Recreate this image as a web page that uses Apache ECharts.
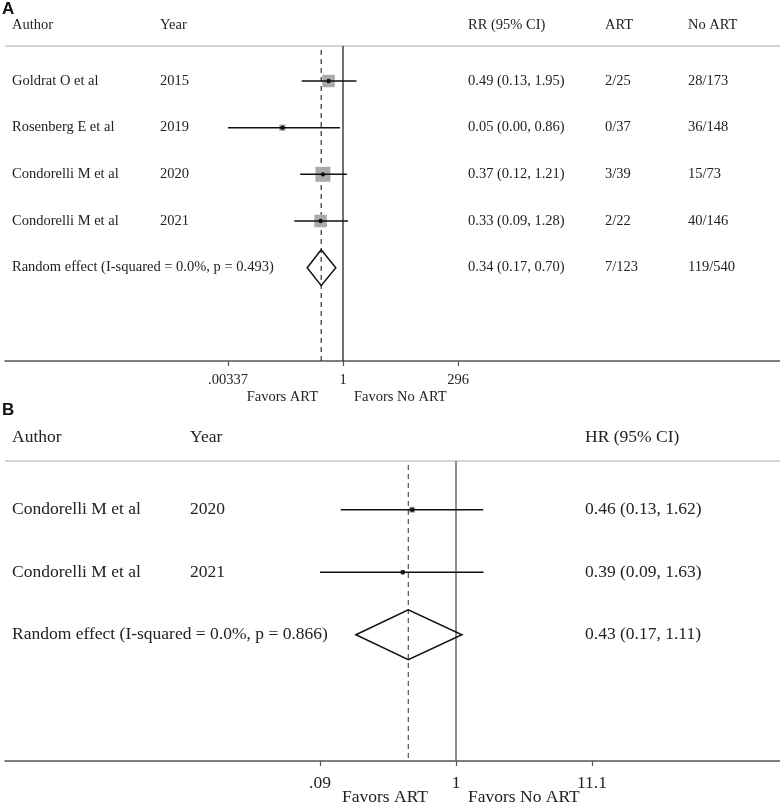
<!DOCTYPE html>
<html><head><meta charset="utf-8">
<script src="https://cdn.jsdelivr.net/npm/echarts@6/dist/echarts.min.js"></script>
<style>html,body{margin:0;padding:0;background:#fff}#c{width:780px;height:803px}</style>
</head><body><div id="c"></div>
<script>
// ---------- Panel A data ----------
const authorsA = ["Goldrat O et al", "Rosenberg E et al", "Condorelli M et al", "Condorelli M et al"];
const yearsA = ["2015", "2019", "2020", "2021"];
const rrA = [0.49, 0.05, 0.37, 0.33];
const loA = [0.13, 0.00, 0.12, 0.09];
const hiA = [1.95, 0.86, 1.21, 1.28];
const artA = ["2/25", "0/37", "3/39", "2/22"];
const noArtA = ["28/173", "36/148", "15/73", "40/146"];
const weightsA = [27, 7, 39, 27];
const pooledLabelA = "Random effect (I-squared = 0.0%, p = 0.493)";
const pooledA = [0.34, 0.17, 0.70];
const pooledArtA = "7/123";
const pooledNoArtA = "119/540";
const ticksA = [0.00337, 1, 296];
const tickLabelsA = [".00337", "1", "296"];

// ---------- Panel B data ----------
const authorsB = ["Condorelli M et al", "Condorelli M et al"];
const yearsB = ["2020", "2021"];
const hrB = [0.46, 0.39];
const loB = [0.13, 0.09];
const hiB = [1.62, 1.63];
const weightsB = [64, 36];
const pooledLabelB = "Random effect (I-squared = 0.0%, p = 0.866)";
const pooledB = [0.43, 0.17, 1.11];
const ticksB = [0.09, 1, 11.1];
const tickLabelsB = [".09", "1", "11.1"];

const SERIF = '"Liberation Serif","Times New Roman",serif';
const ln = Math.log;
const fmt = v => v.toFixed(2);
const ci = (e, l, h) => fmt(e) + " (" + fmt(l) + ", " + fmt(h) + ")";

// layout (pixels)
const A = {left: 5, top: 46, width: 775, height: 315, one: 343, tickR: 458};
const B = {left: 5, top: 461, width: 775, height: 300, one: 456, tickR: 592};
const kA = (A.tickR - A.one) / ln(ticksA[2]);
const kB = (B.tickR - B.one) / ln(ticksB[2]);
const xMinA = (A.left - A.one) / kA, xMaxA = (A.left + A.width - A.one) / kA;
const xMinB = (B.left - B.one) / kB, xMaxB = (B.left + B.width - B.one) / kB;

const chart = echarts.init(document.getElementById('c'), null, {renderer: 'canvas'});

function xAxisFor(gridIndex, min, max, ticks, labels, fontSize, margin) {
  const vals = ticks.map(t => ln(t));
  return {
    type: 'value', gridIndex, min, max, position: 'bottom',
    splitLine: {show: false},
    axisLine: {show: true, onZero: false, lineStyle: {color: '#555', width: 1.5}},
    axisTick: {show: true, customValues: vals, length: 5, lineStyle: {color: '#555', width: 1.2}},
    axisLabel: {
      show: true, customValues: vals, margin,
      fontFamily: SERIF, fontSize, color: '#222',
      formatter: v => { const i = vals.findIndex(t => Math.abs(t - v) < 1e-6); return i >= 0 ? labels[i] : ''; }
    }
  };
}

function studyData(est, lo, hi, w, minTick) {
  return est.map((e, i) => [ln(e), i, ln(Math.max(lo[i], minTick)), ln(hi[i]), w[i]]);
}

function studyRender(boxK) {
  return function (params, api) {
    const p = api.coord([api.value(0), api.value(1)]);
    const pl = api.coord([api.value(2), api.value(1)]);
    const ph = api.coord([api.value(3), api.value(1)]);
    const s = boxK * Math.sqrt(api.value(4));
    return {
      type: 'group', children: [
        {type: 'rect', shape: {x: p[0] - s / 2, y: p[1] - s / 2, width: s, height: s}, style: {fill: '#aaaaaa'}},
        {type: 'line', shape: {x1: pl[0], y1: pl[1], x2: ph[0], y2: ph[1]}, style: {stroke: '#111', lineWidth: 1.5}},
        {type: 'circle', shape: {cx: p[0], cy: p[1], r: 2.2}, style: {fill: '#111'}}
      ]
    };
  };
}

function diamondRender(h) {
  return function (params, api) {
    const r = api.value(3);
    const pe = api.coord([api.value(0), r]);
    const pl = api.coord([api.value(1), r]);
    const ph = api.coord([api.value(2), r]);
    return {
      type: 'polygon',
      shape: {points: [[pl[0], pl[1]], [pe[0], pe[1] - h], [ph[0], ph[1]], [pe[0], pe[1] + h]]},
      style: {fill: 'none', stroke: '#111', lineWidth: 1.5}
    };
  };
}

function vlineRender(color, dash, width, topOffset) {
  return function (params, api) {
    const x = api.value(0);
    const cs = params.coordSys;
    const p = api.coord([x, 0]);
    return {
      type: 'line',
      shape: {x1: p[0], y1: cs.y + topOffset, x2: p[0], y2: cs.y + cs.height},
      style: {stroke: color, lineWidth: width, lineDash: dash}
    };
  };
}

function textRender(columns, fontSize) {
  return function (params, api) {
    const row = api.value(0);
    const y = api.coord([0, row])[1];
    const item = params.dataIndex;
    return {
      type: 'group', children: columns.map(c => ({
        type: 'text', x: c.x, y: y,
        style: {text: c.values[item], fontFamily: SERIF, fontSize, fill: '#222', textVerticalAlign: 'middle', textAlign: 'left'}
      }))
    };
  };
}

// Text rows
const nA = authorsA.length;
const rowsA = authorsA.map((_, i) => [i]).concat([[nA]]);
const colsA = [
  {x: 12, values: authorsA.concat([pooledLabelA])},
  {x: 160, values: yearsA.concat([""])},
  {x: 468, values: rrA.map((e, i) => ci(e, loA[i], hiA[i])).concat([ci(pooledA[0], pooledA[1], pooledA[2])])},
  {x: 605, values: artA.concat([pooledArtA])},
  {x: 688, values: noArtA.concat([pooledNoArtA])}
];
const nB = authorsB.length;
const rowsB = authorsB.map((_, i) => [i]).concat([[nB]]);
const colsB = [
  {x: 12, values: authorsB.concat([pooledLabelB])},
  {x: 190, values: yearsB.concat([""])},
  {x: 585, values: hrB.map((e, i) => ci(e, loB[i], hiB[i])).concat([ci(pooledB[0], pooledB[1], pooledB[2])])}
];

const fsA = 14.5, fsB = 17.5;

const option = {
  animation: false,
  backgroundColor: '#fff',
  grid: [
    {left: A.left, top: A.top, width: A.width, height: A.height},
    {left: B.left, top: B.top, width: B.width, height: B.height}
  ],
  xAxis: [
    xAxisFor(0, xMinA, xMaxA, ticksA, tickLabelsA, fsA, 12),
    xAxisFor(1, xMinB, xMaxB, ticksB, tickLabelsB, fsB, 13)
  ],
  yAxis: [
    {type: 'value', gridIndex: 0, inverse: true, min: -0.75, max: 6.0, show: false},
    {type: 'value', gridIndex: 1, inverse: true, min: -0.78, max: 4.02, show: false}
  ],
  series: [
    {type: 'custom', xAxisIndex: 0, yAxisIndex: 0, clip: false, renderItem: vlineRender('#333', [5, 4], 1.2, 4), data: [[ln(pooledA[0])]], z: 1},
    {type: 'custom', xAxisIndex: 0, yAxisIndex: 0, clip: false, renderItem: vlineRender('#222', null, 1.3, 0), data: [[0]], z: 1},
    {type: 'custom', xAxisIndex: 0, yAxisIndex: 0, clip: false, renderItem: studyRender(2.4), data: studyData(rrA, loA, hiA, weightsA, ticksA[0]), z: 3},
    {type: 'custom', xAxisIndex: 0, yAxisIndex: 0, clip: false, renderItem: diamondRender(18), data: [[ln(pooledA[0]), ln(pooledA[1]), ln(pooledA[2]), nA]], z: 3},
    {type: 'custom', xAxisIndex: 0, yAxisIndex: 0, clip: false, renderItem: textRender(colsA, fsA), data: rowsA, z: 4},

    {type: 'custom', xAxisIndex: 1, yAxisIndex: 1, clip: false, renderItem: vlineRender('#555', [5, 4], 1.2, 4), data: [[ln(pooledB[0])]], z: 1},
    {type: 'custom', xAxisIndex: 1, yAxisIndex: 1, clip: false, renderItem: vlineRender('#666', null, 1.5, 0), data: [[0]], z: 1},
    {type: 'custom', xAxisIndex: 1, yAxisIndex: 1, clip: false, renderItem: studyRender(0.75), data: studyData(hrB, loB, hiB, weightsB, ticksB[0]), z: 3},
    {type: 'custom', xAxisIndex: 1, yAxisIndex: 1, clip: false, renderItem: diamondRender(25), data: [[ln(pooledB[0]), ln(pooledB[1]), ln(pooledB[2]), nB]], z: 3},
    {type: 'custom', xAxisIndex: 1, yAxisIndex: 1, clip: false, renderItem: textRender(colsB, fsB), data: rowsB, z: 4}
  ],
  graphic: [
    {type: 'text', left: 2, top: 1, style: {text: 'A', fontFamily: 'Arial, "Liberation Sans", sans-serif', fontWeight: 'bold', fontSize: 17, fill: '#111'}},
    {type: 'text', x: 12, y: 25, style: {text: 'Author', fontFamily: SERIF, fontSize: fsA, fill: '#222', textVerticalAlign: 'middle'}},
    {type: 'text', x: 160, y: 25, style: {text: 'Year', fontFamily: SERIF, fontSize: fsA, fill: '#222', textVerticalAlign: 'middle'}},
    {type: 'text', x: 468, y: 25, style: {text: 'RR (95% CI)', fontFamily: SERIF, fontSize: fsA, fill: '#222', textVerticalAlign: 'middle'}},
    {type: 'text', x: 605, y: 25, style: {text: 'ART', fontFamily: SERIF, fontSize: fsA, fill: '#222', textVerticalAlign: 'middle'}},
    {type: 'text', x: 688, y: 25, style: {text: 'No ART', fontFamily: SERIF, fontSize: fsA, fill: '#222', textVerticalAlign: 'middle'}},
    {type: 'line', shape: {x1: 5, y1: 46, x2: 780, y2: 46}, style: {stroke: '#d4d4d4', lineWidth: 2}},
    {type: 'text', x: 318, y: 397, style: {text: 'Favors ART', fontFamily: SERIF, fontSize: fsA, fill: '#222', textAlign: 'right', textVerticalAlign: 'middle'}},
    {type: 'text', x: 354, y: 397, style: {text: 'Favors No ART', fontFamily: SERIF, fontSize: fsA, fill: '#222', textAlign: 'left', textVerticalAlign: 'middle'}},

    {type: 'text', left: 2, top: 402, style: {text: 'B', fontFamily: 'Arial, "Liberation Sans", sans-serif', fontWeight: 'bold', fontSize: 17, fill: '#111'}},
    {type: 'text', x: 12, y: 437, style: {text: 'Author', fontFamily: SERIF, fontSize: fsB, fill: '#222', textVerticalAlign: 'middle'}},
    {type: 'text', x: 190, y: 437, style: {text: 'Year', fontFamily: SERIF, fontSize: fsB, fill: '#222', textVerticalAlign: 'middle'}},
    {type: 'text', x: 585, y: 437, style: {text: 'HR (95% CI)', fontFamily: SERIF, fontSize: fsB, fill: '#222', textVerticalAlign: 'middle'}},
    {type: 'line', shape: {x1: 5, y1: 461, x2: 780, y2: 461}, style: {stroke: '#d4d4d4', lineWidth: 2}},
    {type: 'text', x: 428, y: 797, style: {text: 'Favors ART', fontFamily: SERIF, fontSize: fsB, fill: '#222', textAlign: 'right', textVerticalAlign: 'middle'}},
    {type: 'text', x: 468, y: 797, style: {text: 'Favors No ART', fontFamily: SERIF, fontSize: fsB, fill: '#222', textAlign: 'left', textVerticalAlign: 'middle'}}
  ]
};
chart.setOption(option);
</script>
</body></html>
